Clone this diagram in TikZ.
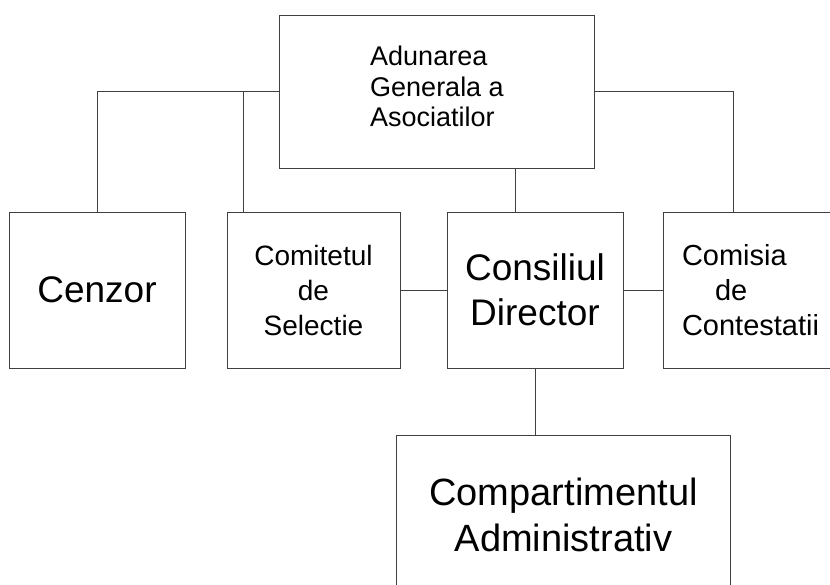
\documentclass[tikz,border=0pt]{standalone}
\usepackage{fontspec}
\setmainfont{Liberation Sans}
\usepackage{tikz}

\begin{document}
\begin{tikzpicture}[x=1pt,y=-1pt,
        box/.style={draw=black!75, line width=0.9pt, inner sep=0pt, outer sep=0pt},
        link/.style={draw=black!75, line width=0.8pt}]
        \clip (0,0) rectangle (830,584);

        \node[box, minimum width=315pt, minimum height=153pt, align=left, text depth=10pt,
              font=\fontsize{27}{30.5}\selectfont] (adunare) at (437,91.5)
              {Adunarea\\Generala a\\Asociatilor};

        \node[box, minimum width=176pt, minimum height=156pt,
              font=\fontsize{37}{44}\selectfont] (cenzor) at (97,290) {Cenzor};
        \node[box, minimum width=173pt, minimum height=156pt, align=center,
              font=\fontsize{28}{35}\selectfont] (comitet) at (313.5,290)
              {Comitetul\\de\\Selectie};
        \node[box, minimum width=176pt, minimum height=156pt, align=center,
              font=\fontsize{37}{45}\selectfont] (consiliu) at (535,290)
              {Consiliul\\Director};
        \node[box, minimum width=187pt, minimum height=156pt, inner xsep=19pt,
              text width=149pt, align=left,
              font=\fontsize{29}{35}\selectfont] (comisia) at (756.5,290)
              {Comisia\\\hspace*{33pt}de\\Contestatii};

        \node[box, minimum width=334pt, minimum height=160pt, align=center,
              font=\fontsize{38}{46.5}\selectfont] (compart) at (563.5,515)
              {Compartimentul\\Administrativ};

        % legaturi
        \draw[link] (adunare.west) -| (cenzor.north);
        \draw[link] ([xshift=16pt]comitet.north west) |- (adunare.west);
        \draw[link] (adunare.east) -| ([xshift=70pt]comisia.north west);
        \draw[link] ([xshift=-20pt]consiliu.north) -- ([xshift=-20pt]consiliu.north |- adunare.south);
        \draw[link] (comitet.east) -- (consiliu.west);
        \draw[link] (consiliu.east) -- (comisia.west);
        \draw[link] (consiliu.south) -- (consiliu.south |- compart.north);
    \end{tikzpicture}
\end{document}
